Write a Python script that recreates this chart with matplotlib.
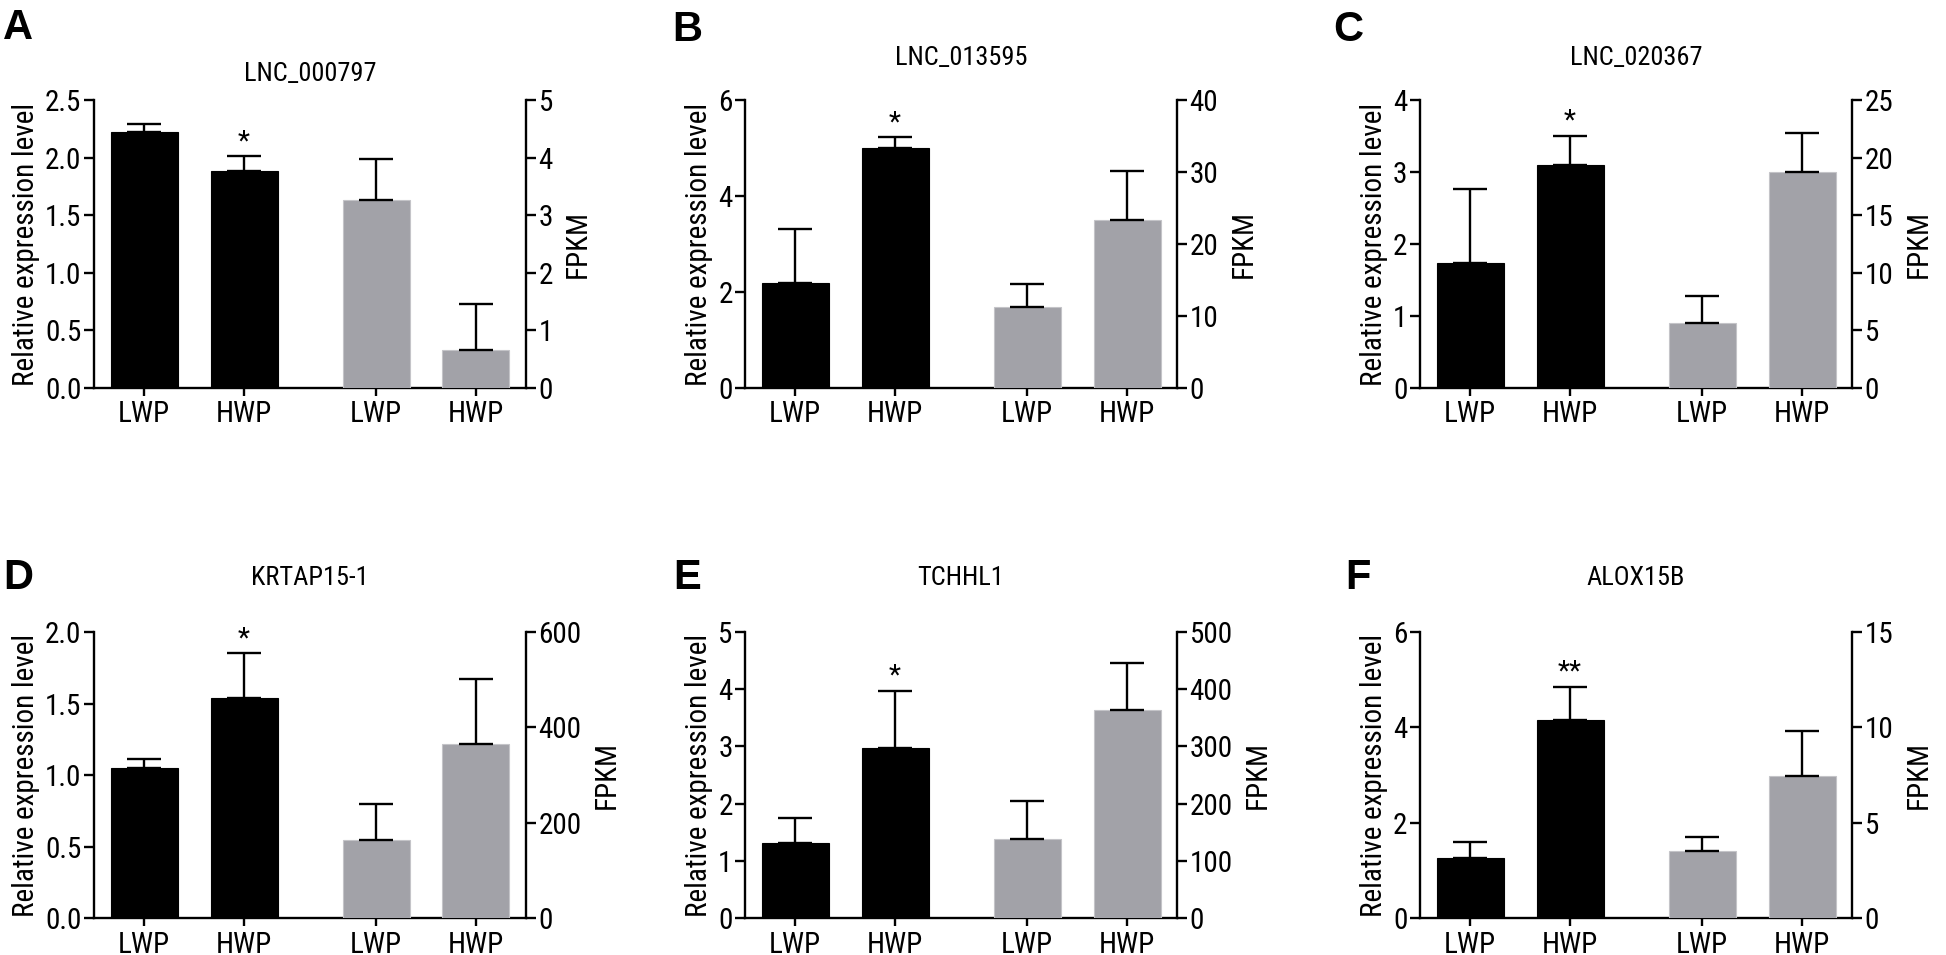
import matplotlib
matplotlib.use('Agg')
import matplotlib.pyplot as plt
from matplotlib import font_manager as fm

# ---------- pick a condensed sans-serif if one is installed ----------
def _is_cond(f):
    s = f.stretch
    if isinstance(s, str):
        return 'condensed' in s.lower()
    try:
        return int(s) < 500
    except Exception:
        return False

_fonts = fm.fontManager.ttflist
_names = {f.name for f in _fonts}
FAMILY, STRETCH, COND = 'Liberation Sans', 'normal', False
for nm in ['Liberation Sans Narrow', 'Arial Narrow', 'Roboto Condensed', 'Open Sans Condensed']:
    if nm in _names:
        FAMILY, STRETCH, COND = nm, 'normal', True
        break
else:
    for nm in ['Liberation Sans', 'Roboto', 'Noto Sans', 'Open Sans', 'DejaVu Sans']:
        hits = [f for f in _fonts if f.name == nm and _is_cond(f)]
        if hits:
            FAMILY, STRETCH, COND = nm, hits[0].stretch, True
            break
plt.rcParams['font.family'] = [FAMILY, 'DejaVu Sans']
plt.rcParams['font.stretch'] = STRETCH

if COND:
    FS_TICK, FS_XT, FS_LAB, FS_TITLE = 21, 21, 21, 19
else:
    FS_TICK, FS_XT, FS_LAB, FS_TITLE = 17, 18, 19, 16
FS_LET = 30

# ---------------- data ----------------
genes = ['LNC_000797', 'LNC_013595', 'LNC_020367', 'KRTAP15-1', 'TCHHL1', 'ALOX15B']
letters = ['A', 'B', 'C', 'D', 'E', 'F']
groups = ['LWP', 'HWP', 'LWP', 'HWP']

rel_mean = [[2.22, 1.88], [2.19, 4.99], [1.74, 3.10], [1.05, 1.54], [1.31, 2.97], [1.26, 4.15]]
rel_err = [[0.07, 0.13], [1.13, 0.23], [1.02, 0.40], [0.06, 0.31], [0.43, 1.00], [0.33, 0.70]]
fpkm_mean = [[3.26, 0.66], [11.3, 23.4], [5.6, 18.75], [163, 366], [138, 364], [3.49, 7.47]]
fpkm_err = [[0.72, 0.80], [3.1, 6.8], [2.35, 3.35], [77, 136], [66, 82], [0.78, 2.35]]
rel_ymax = [2.5, 6, 4, 2.0, 5, 6]
rel_step = [0.5, 2, 1, 0.5, 1, 2]
rel_decimals = [1, 0, 0, 1, 0, 0]
fpkm_ymax = [5, 40, 25, 600, 500, 15]
fpkm_step = [1, 10, 5, 200, 100, 5]
stars = ['*', '*', '*', '*', '*', '**']

# ---------------- layout (pixels) ----------------
W, H = 1946, 955
fig = plt.figure(figsize=(W / 100, H / 100), dpi=100)

col_left = [94, 745, 1420]
ax_w = 432
row_top = [100, 632]
row_bot = [388, 918]
title_y = [74, 58, 58, 578, 578, 578]
letter_xy = [(3, 8), (672, 10), (1333, 10), (3, 558), (673, 558), (1345, 558)]

xpos = [0, 1, 2.32, 3.32]
BLACK = '#000000'
GRAY = '#a2a2a8'
LW = 1.7

for i in range(6):
    r, c = divmod(i, 3)
    l = col_left[c]
    t, b = row_top[r], row_bot[r]
    ax = fig.add_axes([l / W, 1 - b / H, ax_w / W, (b - t) / H])
    ax2 = ax.twinx()

    # left (relative expression) bars
    ax.bar(xpos[:2], rel_mean[i], width=0.67, color=BLACK, edgecolor=BLACK, linewidth=0.8, zorder=2)
    ax.errorbar(xpos[:2], rel_mean[i], yerr=[[0, 0], rel_err[i]], fmt='none',
                ecolor='black', elinewidth=LW, capsize=12, capthick=LW, zorder=3)
    # right (FPKM) bars
    ax2.bar(xpos[2:], fpkm_mean[i], width=0.67, color=GRAY, edgecolor='#c4c4c8', linewidth=0.8, zorder=2)
    ax2.errorbar(xpos[2:], fpkm_mean[i], yerr=[[0, 0], fpkm_err[i]], fmt='none',
                 ecolor='black', elinewidth=LW, capsize=12, capthick=LW, zorder=3)

    # significance mark above HWP
    ytop = rel_mean[i][1] + rel_err[i][1]
    ax.annotate(stars[i], (xpos[1], ytop), xytext=(0, 1), textcoords='offset points',
                ha='center', va='bottom', fontsize=20)

    ax.set_xlim(-0.5, 3.82)
    ax.set_ylim(0, rel_ymax[i])
    ax2.set_ylim(0, fpkm_ymax[i])
    n = int(round(rel_ymax[i] / rel_step[i]))
    rt = [k * rel_step[i] for k in range(n + 1)]
    ax.set_yticks(rt)
    fmt = '{:.1f}' if rel_decimals[i] else '{:.0f}'
    ax.set_yticklabels([fmt.format(v) for v in rt])
    m = int(round(fpkm_ymax[i] / fpkm_step[i]))
    ft = [k * fpkm_step[i] for k in range(m + 1)]
    ax2.set_yticks(ft)
    ax2.set_yticklabels([str(v) for v in ft])
    ax.set_xticks(xpos)
    ax.set_xticklabels(groups)

    for a in (ax, ax2):
        for s in a.spines.values():
            s.set_linewidth(LW)
            s.set_color('black')
        a.spines['top'].set_visible(False)
    ax.spines['right'].set_visible(False)
    ax2.spines['left'].set_visible(False)
    ax2.spines['bottom'].set_visible(False)

    ax.tick_params(axis='y', direction='out', length=7, width=LW, labelsize=FS_TICK, pad=2)
    ax.tick_params(axis='x', direction='out', length=6, width=LW, labelsize=FS_XT, pad=3)
    ax2.tick_params(axis='y', direction='out', length=7, width=LW, labelsize=FS_TICK, pad=2)

    ax.set_ylabel('Relative expression level', fontsize=FS_LAB, labelpad=4)
    ax2.set_ylabel('FPKM', fontsize=FS_LAB, labelpad=8)

    # title
    fig.text((l + ax_w / 2) / W, 1 - title_y[i] / H, genes[i], ha='center', va='center', fontsize=FS_TITLE)
    # panel letter (wide bold face, as in the reference)
    lx, ly = letter_xy[i]
    fig.text(lx / W, 1 - ly / H, letters[i], ha='left', va='top', fontsize=FS_LET,
             fontweight='bold', family=['Liberation Sans', 'DejaVu Sans'], stretch='normal')

fig.savefig('out.png', dpi=100, facecolor='white')
